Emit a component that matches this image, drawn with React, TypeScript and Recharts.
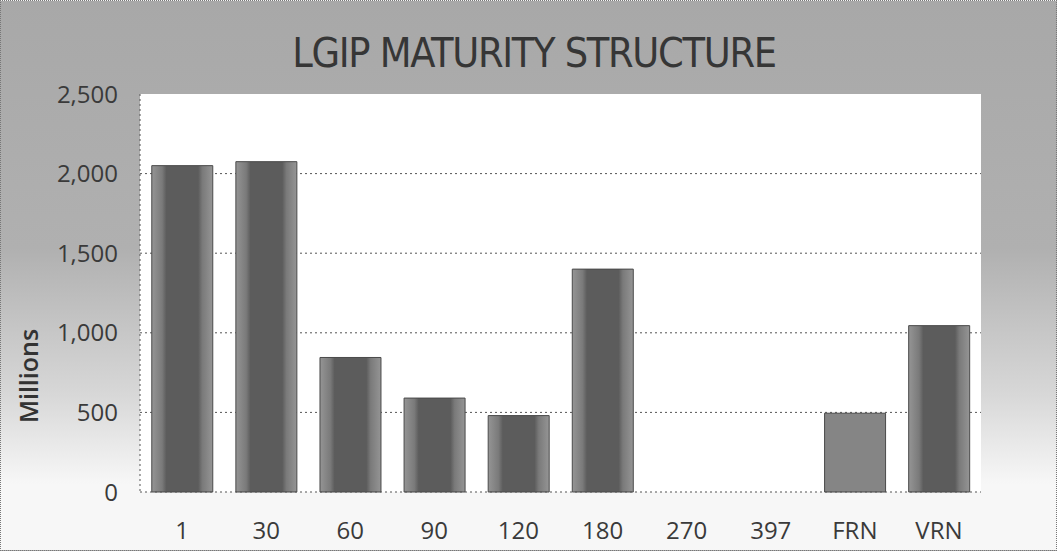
import React from 'react';
import { BarChart, Bar, XAxis, YAxis, CartesianGrid, Cell } from 'recharts';

// maturity buckets (days) and holdings in millions
const buckets = ['1', '30', '60', '90', '120', '180', '270', '397', 'FRN', 'VRN'];
const holdings = [2050, 2075, 845, 590, 480, 1400, 0, 0, 495, 1045];
const yTicks = [0, 500, 1000, 1500, 2000, 2500];

const data = buckets.map((b, i) => ({ bucket: b, value: holdings[i] }));

const tickStyle = { fill: '#3a3a3a', fontSize: 24, fontFamily: 'Open Sans' };

export default function App() {
  return (
    <div
      style={{
        position: 'absolute',
        left: 0,
        top: 0,
        width: 1057,
        height: 551,
        boxSizing: 'border-box',
        border: '1px dotted #777',
        background: 'linear-gradient(180deg, #a8a8a8 0%, #b0b0b0 45%, #d8d8d8 72%, #f7f7f7 88%)',
        overflow: 'hidden',
      }}
    >
      <div
        style={{
          position: 'absolute',
          left: 0,
          width: 1066,
          top: 29,
          textAlign: 'center',
          fontFamily: 'DejaVu Sans Condensed',
          fontSize: 41,
          lineHeight: 1.16,
          color: '#363636',
          letterSpacing: -1.3,
        }}
      >
        LGIP MATURITY STRUCTURE
      </div>
      <div
        style={{
          position: 'absolute',
          left: 27,
          top: 375,
          transform: 'translate(-50%, -50%) rotate(-90deg)',
          fontFamily: 'Open Sans',
          fontWeight: 600,
          fontSize: 25,
          color: '#333',
          whiteSpace: 'nowrap',
        }}
      >
        Millions
      </div>
      <BarChart
        width={1057}
        height={551}
        data={data}
        margin={{ top: 94, right: 76, bottom: 0, left: 0 }}
        barCategoryGap="14%"
        style={{ position: 'absolute', left: -1, top: -1 }}
      >
        <defs>
          <linearGradient id="barFill" x1="0" y1="0" x2="1" y2="0">
            <stop offset="0%" stopColor="#959595" />
            <stop offset="17%" stopColor="#7a7a7a" />
            <stop offset="24%" stopColor="#5c5c5c" />
            <stop offset="76%" stopColor="#5c5c5c" />
            <stop offset="83%" stopColor="#7a7a7a" />
            <stop offset="100%" stopColor="#959595" />
          </linearGradient>
        </defs>
        <CartesianGrid
          vertical={false}
          fill="#ffffff"
          stroke="#555"
          strokeDasharray="2 3"
          horizontalValues={[500, 1000, 1500, 2000]}
        />
        <XAxis
          dataKey="bucket"
          height={59}
          tickLine={false}
          tickMargin={24}
          axisLine={{ stroke: '#555', strokeDasharray: '2 3' }}
          tick={tickStyle}
          interval={0}
        />
        <YAxis
          width={140}
          domain={[0, 2500]}
          ticks={yTicks}
          tickLine={false}
          tickMargin={16}
          axisLine={{ stroke: '#555', strokeDasharray: '2 3' }}
          tick={tickStyle}
          tickFormatter={(v: number) => v.toLocaleString('en-US')}
        />
        <Bar dataKey="value" isAnimationActive={false} stroke="#4a4a4a" strokeWidth={1}>
          {data.map((d) => (
            <Cell key={d.bucket} fill={d.bucket === 'FRN' ? '#858585' : 'url(#barFill)'} />
          ))}
        </Bar>
      </BarChart>
    </div>
  );
}
